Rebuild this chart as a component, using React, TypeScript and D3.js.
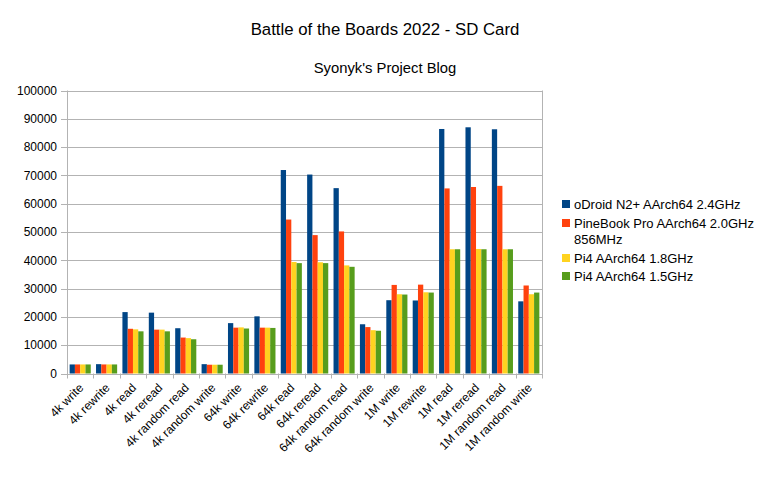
import { useEffect, useRef } from 'react';
import * as d3 from 'd3';

const categories = [
  '4k write', '4k rewrite', '4k read', '4k reread', '4k random read', '4k random write',
  '64k write', '64k rewrite', '64k read', '64k reread', '64k random read', '64k random write',
  '1M write', '1M rewrite', '1M read', '1M reread', '1M random read', '1M random write',
];

const seriesNames = [
  'oDroid N2+ AArch64 2.4GHz',
  'PineBook Pro AArch64 2.0GHz 856MHz',
  'Pi4 AArch64 1.8GHz',
  'Pi4 AArch64 1.5GHz',
];

const odroid = [3200, 3300, 21700, 21500, 16000, 3300, 17800, 20200, 71900, 70300, 65500, 17400, 25900, 25800, 86400, 87000, 86300, 25500];
const pinebook = [3200, 3200, 15800, 15500, 12700, 3100, 16200, 16200, 54400, 48900, 50200, 16400, 31300, 31400, 65400, 65900, 66300, 31100];
const pi4fast = [3200, 3200, 15600, 15500, 12500, 3100, 16300, 16200, 39400, 39300, 38200, 15300, 28000, 28700, 43900, 44000, 43900, 28000];
const pi4slow = [3200, 3200, 14900, 14900, 12100, 3100, 15900, 16100, 39000, 39000, 37700, 15100, 27900, 28600, 43900, 43900, 43900, 28600];

const yTicks = [0, 10000, 20000, 30000, 40000, 50000, 60000, 70000, 80000, 90000, 100000];

const colors = ['#004586', '#ff420e', '#ffd320', '#579d1c'];

export default function App() {
  const svgRef = useRef<SVGSVGElement>(null);

  useEffect(() => {
    if (!svgRef.current) return;
    const svg = d3.select(svgRef.current);
    svg.selectAll('*').remove();

    const width = 768;
    const height = 480;
    const left = 67;
    const right = 542;
    const top = 90.5;
    const bottom = 373.5;
    const font = '"Liberation Sans", Arial, sans-serif';

    const series = [odroid, pinebook, pi4fast, pi4slow];

    const x = d3.scaleBand().domain(categories).range([left, right]).paddingInner(0).paddingOuter(0);
    const xInner = d3.scaleBand<number>()
      .domain(d3.range(series.length))
      .range([0, x.bandwidth()])
      .paddingOuter(0.5)
      .paddingInner(0);
    const y = d3.scaleLinear().domain([0, 100000]).range([bottom, top]);

    svg.attr('width', width).attr('height', height).attr('viewBox', `0 0 ${width} ${height}`);

    svg.append('rect').attr('width', width).attr('height', height).attr('fill', '#ffffff');

    // Titles
    svg.append('text')
      .attr('x', 385)
      .attr('y', 35)
      .attr('text-anchor', 'middle')
      .attr('font-family', font)
      .attr('font-size', 16.8)
      .attr('fill', '#000')
      .text('Battle of the Boards 2022 - SD Card');

    svg.append('text')
      .attr('x', 385)
      .attr('y', 73)
      .attr('text-anchor', 'middle')
      .attr('font-family', font)
      .attr('font-size', 14.8)
      .attr('fill', '#000')
      .text("Syonyk's Project Blog");

    // Grid
    const grid = svg.append('g');
    yTicks.forEach((t) => {
      grid.append('line')
        .attr('x1', left - 6)
        .attr('x2', right)
        .attr('y1', Math.round(y(t)) + 0.5)
        .attr('y2', Math.round(y(t)) + 0.5)
        .attr('stroke', '#b3b3b3')
        .attr('stroke-width', 1);
      grid.append('text')
        .attr('x', left - 10)
        .attr('y', y(t))
        .attr('dy', '0.35em')
        .attr('text-anchor', 'end')
        .attr('font-family', font)
        .attr('font-size', 12)
        .attr('fill', '#000')
        .text(t);
    });

    // Axis lines
    grid.append('line')
      .attr('x1', left + 0.5).attr('x2', left + 0.5)
      .attr('y1', top).attr('y2', bottom + 5)
      .attr('stroke', '#b3b3b3');
    grid.append('line')
      .attr('x1', right + 0.5).attr('x2', right + 0.5)
      .attr('y1', top).attr('y2', bottom)
      .attr('stroke', '#b3b3b3');

    categories.forEach((c) => {
      const bx = Math.round((x(c) ?? 0) + x.bandwidth()) + 0.5;
      grid.append('line')
        .attr('x1', bx).attr('x2', bx)
        .attr('y1', bottom).attr('y2', bottom + 5)
        .attr('stroke', '#b3b3b3');
    });

    // Bars
    series.forEach((values, si) => {
      svg.append('g')
        .selectAll('rect')
        .data(values)
        .join('rect')
        .attr('x', (_, i) => (x(categories[i]) ?? 0) + (xInner(si) ?? 0))
        .attr('y', (d) => y(d))
        .attr('width', xInner.bandwidth())
        .attr('height', (d) => bottom - y(d))
        .attr('fill', colors[si]);
    });

    // X labels
    svg.append('g')
      .selectAll('text')
      .data(categories)
      .join('text')
      .attr('transform', (d) => `translate(${(x(d) ?? 0) + x.bandwidth() / 2 + 1},${bottom + 12}) rotate(-45)`)
      .attr('text-anchor', 'end')
      .attr('dy', '0.35em')
      .attr('font-family', font)
      .attr('font-size', 12)
      .attr('fill', '#000')
      .text((d) => d);

    // Legend
    const legend = svg.append('g').attr('font-family', font).attr('font-size', 13);
    const rows = [
      { i: 0, y: 204, lines: ['oDroid N2+ AArch64 2.4GHz'] },
      { i: 1, y: 223, lines: ['PineBook Pro AArch64 2.0GHz', '856MHz'] },
      { i: 2, y: 258, lines: ['Pi4 AArch64 1.8GHz'] },
      { i: 3, y: 276, lines: ['Pi4 AArch64 1.5GHz'] },
    ];
    rows.forEach((r) => {
      legend.append('rect')
        .attr('x', 562)
        .attr('y', r.y - 4)
        .attr('width', 8)
        .attr('height', 8)
        .attr('fill', colors[r.i]);
      const t = legend.append('text')
        .attr('x', 574)
        .attr('y', r.y)
        .attr('fill', '#000')
        .attr('aria-label', seriesNames[r.i]);
      r.lines.forEach((line, li) => {
        t.append('tspan').attr('x', 574).attr('dy', li === 0 ? '0.35em' : '16px').text(line);
      });
    });
  }, []);

  return <svg ref={svgRef} style={{ position: 'absolute', left: 0, top: 0 }} />;
}
